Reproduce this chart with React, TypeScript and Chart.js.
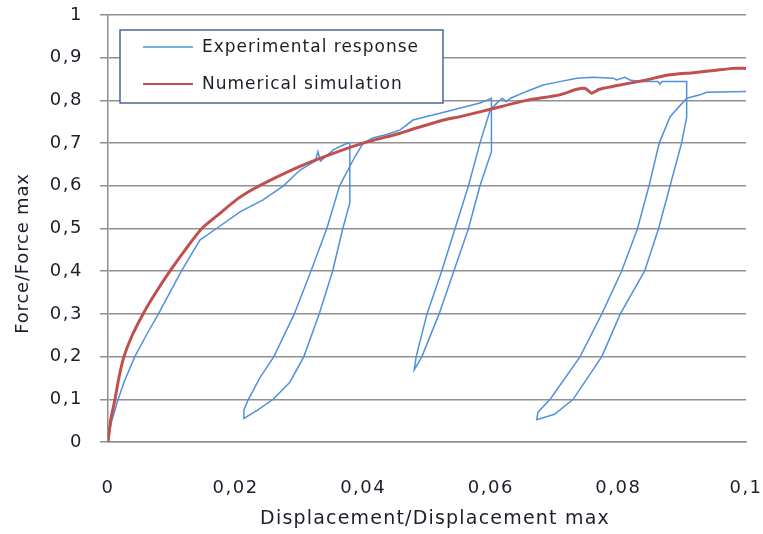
import React, { useEffect, useRef } from "react";
import { Chart, registerables } from "chart.js";

Chart.register(...registerables);

// Experimental response (digitized path, including the three unloading/reloading loops)
const expX = [
  0, 0.0005, 0.0016, 0.0025, 0.0042, 0.006, 0.0079, 0.0115, 0.0144, 0.017, 0.0207, 0.0243, 0.0275, 0.0301, 0.0325, 0.0329, 0.0333, 0.0353, 0.0372, 0.0379,
  0.0379, 0.0368, 0.0352, 0.0331, 0.0307, 0.0285, 0.0259, 0.0235, 0.0213,
  0.0213, 0.022, 0.0238, 0.026, 0.0292, 0.0318, 0.0343, 0.0363, 0.0387, 0.04, 0.0415, 0.0437, 0.0458, 0.0478, 0.0531, 0.0583, 0.0601,
  0.0601, 0.0601, 0.0583, 0.0565, 0.0542, 0.0519, 0.0492, 0.048,
  0.0483, 0.05, 0.0523, 0.0544, 0.0565, 0.0583, 0.0599, 0.0609, 0.0618, 0.0624, 0.0631, 0.0656, 0.0682, 0.0708, 0.0735, 0.076, 0.0792, 0.0797, 0.081, 0.0818, 0.0834, 0.0862, 0.0865, 0.0868, 0.0907,
  0.0907, 0.0899, 0.0881, 0.0863, 0.0841, 0.0803, 0.0774, 0.0729, 0.07, 0.0672,
  0.0674, 0.0693, 0.074, 0.0774, 0.0805, 0.083, 0.0848, 0.0864, 0.0881, 0.0907, 0.0928, 0.0938, 0.1,
];
const expY = [
  0, 0.045, 0.1, 0.14, 0.2, 0.25, 0.3, 0.4, 0.473, 0.5, 0.539, 0.567, 0.6, 0.637, 0.658, 0.68, 0.658, 0.684, 0.698, 0.7,
  0.56, 0.5, 0.4, 0.3, 0.2, 0.14, 0.1, 0.075, 0.055,
  0.075, 0.1, 0.15, 0.2, 0.3, 0.4, 0.5, 0.6, 0.668, 0.7, 0.712, 0.72, 0.731, 0.754, 0.774, 0.794, 0.805,
  0.7, 0.68, 0.6, 0.5, 0.4, 0.3, 0.2, 0.169,
  0.2, 0.3, 0.4, 0.5, 0.6, 0.7, 0.777, 0.793, 0.805, 0.797, 0.805, 0.821, 0.836, 0.844, 0.852, 0.854, 0.852, 0.848, 0.854, 0.848, 0.844, 0.844, 0.838, 0.844, 0.844,
  0.76, 0.7, 0.6, 0.5, 0.4, 0.3, 0.2, 0.1, 0.065, 0.052,
  0.07, 0.1, 0.2, 0.3, 0.4, 0.5, 0.6, 0.7, 0.762, 0.805, 0.813, 0.819, 0.821,
];

// Numerical simulation
const simX = [
  0, 0.0004, 0.0011, 0.0017, 0.0025, 0.0038, 0.0055, 0.0075, 0.0097, 0.0121, 0.0147, 0.0175, 0.0201, 0.0225, 0.025, 0.03, 0.0353, 0.04, 0.0458, 0.0478,
  0.0531, 0.0552, 0.0604, 0.0656, 0.0708, 0.0735, 0.0748, 0.0758, 0.077, 0.0792, 0.0844, 0.0876, 0.0918, 0.095, 0.0979, 0.1,
];
const simY = [
  0, 0.05, 0.1, 0.15, 0.2, 0.25, 0.3, 0.35, 0.4, 0.45, 0.5, 0.535, 0.567, 0.59, 0.61, 0.645, 0.676, 0.7, 0.723, 0.733,
  0.756, 0.762, 0.781, 0.8, 0.813, 0.826, 0.828, 0.817, 0.826, 0.833, 0.848, 0.859, 0.865, 0.87, 0.875, 0.875,
];

const xTickLabels = ["0", "0,02", "0,04", "0,06", "0,08", "0,1"];
const yTickLabels = ["0", "0,1", "0,2", "0,3", "0,4", "0,5", "0,6", "0,7", "0,8", "0,9", "1"];

const seriesNames = ["Experimental response", "Numerical simulation"];
const seriesColors = ["#5090dc", "#c0504d"];

const xTitle = "Displacement/Displacement max";
const yTitle = "Force/Force max";

const FONT = "'DejaVu Sans', sans-serif";
const GRID = "#8f8f8f";
const TEXT = "#1e1e2a";

const overlayPlugin = {
  id: "overlay",
  beforeDraw(chart: any) {
    chart.ctx.letterSpacing = "1.5px";
  },
  afterDraw(chart: any) {
    const { ctx, chartArea } = chart;
    const midX = (chartArea.left + chartArea.right) / 2;
    const midY = (chartArea.top + chartArea.bottom) / 2;

    // x axis title
    ctx.save();
    ctx.letterSpacing = "1.2px";
    ctx.font = `19px ${FONT}`;
    ctx.fillStyle = TEXT;
    ctx.textAlign = "center";
    ctx.textBaseline = "middle";
    ctx.fillText(xTitle, midX + 8, chartArea.bottom + 77);
    ctx.restore();

    // y axis title
    ctx.save();
    ctx.letterSpacing = "0.8px";
    ctx.translate(23, midY + 25);
    ctx.rotate(-Math.PI / 2);
    ctx.font = `18px ${FONT}`;
    ctx.fillStyle = TEXT;
    ctx.textAlign = "center";
    ctx.textBaseline = "middle";
    ctx.fillText(yTitle, 0, 0);
    ctx.restore();

    // legend box
    ctx.save();
    ctx.letterSpacing = "1px";
    const bx = chartArea.left + 12;
    const by = chartArea.top + 15;
    const bw = 323;
    const bh = 73;
    ctx.fillStyle = "#ffffff";
    ctx.fillRect(bx, by, bw, bh);
    ctx.strokeStyle = "#4a6797";
    ctx.lineWidth = 1.5;
    ctx.strokeRect(bx, by, bw, bh);
    ctx.font = `17px ${FONT}`;
    ctx.textBaseline = "middle";
    ctx.textAlign = "left";
    const rows = [by + 17, by + 54];
    seriesNames.forEach((name, i) => {
      ctx.strokeStyle = seriesColors[i];
      ctx.lineWidth = i === 0 ? 1.5 : 2;
      ctx.beginPath();
      ctx.moveTo(bx + 23, rows[i]);
      ctx.lineTo(bx + 73, rows[i]);
      ctx.stroke();
      ctx.fillStyle = TEXT;
      ctx.fillText(name, bx + 82, rows[i] + 1);
    });
    ctx.restore();
  },
};

export default function App() {
  const ref = useRef<HTMLCanvasElement | null>(null);

  useEffect(() => {
    document.body.style.margin = "0";
    const canvas = ref.current;
    if (!canvas) return;
    const chart = new Chart(canvas, {
      type: "scatter",
      data: {
        datasets: [
          {
            label: seriesNames[0],
            data: expX.map((x, i) => ({ x, y: expY[i] })),
            showLine: true,
            borderColor: seriesColors[0],
            backgroundColor: seriesColors[0],
            borderWidth: 1.5,
            pointRadius: 0,
            tension: 0,
            order: 2,
          },
          {
            label: seriesNames[1],
            data: simX.map((x, i) => ({ x, y: simY[i] })),
            showLine: true,
            borderColor: seriesColors[1],
            backgroundColor: seriesColors[1],
            borderWidth: 3,
            pointRadius: 0,
            tension: 0.2,
            order: 1,
          },
        ],
      },
      options: {
        animation: false,
        responsive: false,
        layout: { padding: { left: 0, top: 15, right: 17, bottom: 0 } },
        plugins: {
          legend: { display: false },
          tooltip: { enabled: false },
        },
        scales: {
          x: {
            type: "linear",
            min: 0,
            max: 0.1,
            afterFit: (s: any) => {
              s.height = 92;
              s.paddingLeft = 0;
              s.paddingRight = 0;
            },
            ticks: {
              stepSize: 0.02,
              padding: 36,
              color: TEXT,
              font: { family: FONT, size: 18 },
              maxRotation: 0,
              callback: (_v: any, i: number) => xTickLabels[i],
            },
            grid: { display: false, drawTicks: false, tickLength: 0 },
            border: { display: true, color: GRID, width: 1.5 },
            title: { display: false, text: xTitle },
          },
          y: {
            type: "linear",
            min: 0,
            max: 1,
            afterFit: (s: any) => {
              s.width = 108;
              s.paddingTop = 0;
              s.paddingBottom = 0;
            },
            ticks: {
              stepSize: 0.1,
              padding: 17,
              color: TEXT,
              font: { family: FONT, size: 18 },
              callback: (_v: any, i: number) => yTickLabels[i],
            },
            grid: { color: GRID, lineWidth: 1.5, drawTicks: true, tickLength: 8 },
            border: { display: true, color: GRID, width: 1.5 },
            title: { display: false, text: yTitle },
          },
        },
      },
      plugins: [overlayPlugin],
    });
    return () => chart.destroy();
  }, []);

  return (
    <div style={{ width: 763, height: 534 }}>
      <canvas ref={ref} width={763} height={534} />
    </div>
  );
}
